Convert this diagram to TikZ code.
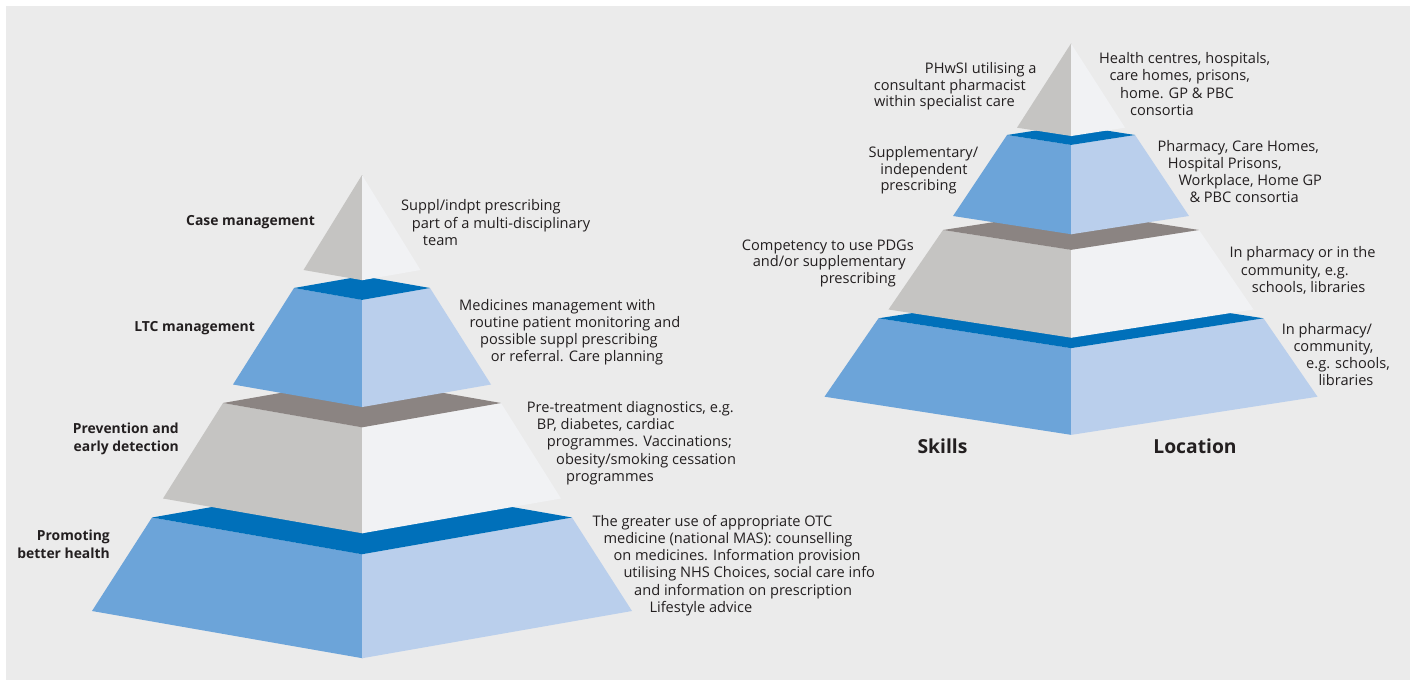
\documentclass[tikz,border=0pt]{standalone}
\usepackage{fontspec}
\setmainfont{Open Sans}
\definecolor{bgcol}{HTML}{EBEBEB}
\definecolor{greyL}{HTML}{C5C4C2}
\definecolor{greyR}{HTML}{F1F2F4}
\definecolor{greyT}{HTML}{8B8482}
\definecolor{blueL}{HTML}{6CA4D9}
\definecolor{blueR}{HTML}{BACFEC}
\definecolor{blueT}{HTML}{0070BA}
\definecolor{txtcol}{HTML}{231F20}
\newcommand\lns[1]{\begin{tabular}[t]{@{}l@{}}#1\end{tabular}}
\newcommand\rns[1]{\begin{tabular}[t]{@{}r@{}}#1\end{tabular}}
% tier: cx, ratio, top half-width, top y, bottom half-width, bottom y, left col, right col, top col
\newcommand\pyrtier[9]{%
  \fill[#7] ({#1-#3},#4) -- ({#1+0.6},{#4+#2*#3}) -- ({#1+0.6},{#6+#2*#5}) -- ({#1-#5},#6) -- cycle;
  \fill[#8] ({#1+#3},#4) -- (#1,{#4+#2*#3}) -- (#1,{#6+#2*#5}) -- ({#1+#5},#6) -- cycle;
  \fill[#9] ({#1-#3},#4) -- (#1,{#4-#2*#3}) -- ({#1+#3},#4) -- (#1,{#4+#2*#3}) -- cycle;
}
\tikzset{
  bodytxt/.style={inner sep=0pt, text=txtcol, font=\fontsize{14.6}{17.3}\selectfont},
  labtxt/.style={inner sep=0pt, text=txtcol, font=\bfseries\fontsize{13.9}{18.3}\selectfont},
  axistxt/.style={inner sep=0pt, text=txtcol, font=\bfseries\fontsize{19.3}{22}\selectfont},
}
\begin{document}
\begin{tikzpicture}[x=1pt,y=-1pt]
\path[use as bounding box] (0,0) rectangle (1410,680);
\fill[bgcol] (6,6) rectangle (1410,680);

% ---------- left pyramid ----------
\pyrtier{362}{0.175}{210}{517.5}{270}{611}{blueL}{blueR}{blueT}
\pyrtier{362}{0.175}{139}{403}{199}{498.5}{greyL}{greyR}{greyT}
\pyrtier{362}{0.175}{68}{288}{129}{384.5}{blueL}{blueR}{blueT}
\fill[greyL] (362,175) -- (362.6,175) -- (362.6,{270+0.175*58.5}) -- ({362-58.5},270) -- cycle;
\fill[greyR] (362,175) -- (362,{270+0.175*58.5}) -- ({362+58.5},270) -- cycle;

% ---------- right pyramid ----------
\pyrtier{1071}{0.155}{192.5}{318.3}{246.5}{396.7}{blueL}{blueR}{blueT}
\pyrtier{1071}{0.155}{128}{230}{182.5}{309.5}{greyL}{greyR}{greyT}
\pyrtier{1071}{0.155}{64}{135}{118}{216}{blueL}{blueR}{blueT}
\fill[greyL] (1071,43.5) -- (1071.6,43.5) -- (1071.6,{127.7+0.155*54}) -- ({1071-54},127.7) -- cycle;
\fill[greyR] (1071,43.5) -- (1071,{127.7+0.155*54}) -- ({1071+54},127.7) -- cycle;

% ---------- left pyramid labels ----------
\node[labtxt, anchor=base east] (lcase) at (315,225) {Case management};
\node[labtxt, anchor=base east] (lltc) at (255,331) {LTC management};
\node[labtxt, anchor=base east] (lprev) at (179,433.5) {\rns{Prevention and\\early detection}};
\node[labtxt, anchor=base east] (lprom) at (110,540.5) {\rns{Promoting\\better health}};

\node[bodytxt, anchor=base west] (tcase) at (401,210.7) {\lns{Suppl/indpt prescribing\\
\hspace*{10.7pt}part of a multi-disciplinary\\
\hspace*{21.7pt}team}};
\node[bodytxt, anchor=base west] (tltc) at (459,310) {\lns{Medicines management with\\
\hspace*{10.3pt}routine patient monitoring and\\
\hspace*{21pt}possible suppl prescribing\\
\hspace*{31.7pt}or referral. Care planning}};
\node[bodytxt, anchor=base west] (tprev) at (526.7,412.3) {\lns{Pre-treatment diagnostics, e.g.\\
\hspace*{10pt}BP, diabetes, cardiac\\
\hspace*{20pt}programmes. Vaccinations;\\
\hspace*{29.3pt}obesity/smoking cessation\\
\hspace*{39.3pt}programmes}};
\node[bodytxt, anchor=base west] (tprom) at (592.3,526) {\lns{The greater use of appropriate OTC\\
\hspace*{11pt}medicine (national MAS): counselling\\
\hspace*{21pt}on medicines. Information provision\\
\hspace*{31pt}utilising NHS Choices, social care info\\
\hspace*{41.7pt}and information on prescription\\
\hspace*{57pt}Lifestyle advice}};

% ---------- right pyramid texts ----------
\node[bodytxt, anchor=base east, font=\fontsize{14.6}{16.7}\selectfont] (sk1) at (1036.7,73.3) {\rns{PHwSI utilising a\\
consultant pharmacist\hspace*{10.7pt}\\
within specialist care\hspace*{21.7pt}}};
\node[bodytxt, anchor=base east, font=\fontsize{14.6}{16.6}\selectfont] (sk2) at (978.3,157.7) {\rns{Supplementary/\\
independent\hspace*{10.6pt}\\
prescribing\hspace*{21.6pt}}};
\node[bodytxt, anchor=base east, font=\fontsize{14.6}{16.7}\selectfont] (sk3) at (914,250) {\rns{Competency to use PDGs\\
and/or supplementary\hspace*{8pt}\\
prescribing\hspace*{18pt}}};

\node[bodytxt, anchor=base west, font=\fontsize{14.6}{17.5}\selectfont] (lo1) at (1099,63.3) {\lns{Health centres, hospitals,\\
\hspace*{10.3pt}care homes, prisons,\\
\hspace*{21pt}home. GP \& PBC\\
\hspace*{31pt}consortia}};
\node[bodytxt, anchor=base west, font=\fontsize{14.6}{17.2}\selectfont] (lo2) at (1157.3,151) {\lns{Pharmacy, Care Homes,\\
\hspace*{10.4pt}Hospital Prisons,\\
\hspace*{21pt}Workplace, Home GP\\
\hspace*{32pt}\& PBC consortia}};
\node[bodytxt, anchor=base west] (lo3) at (1229.3,257.7) {\lns{In pharmacy or in the\\
\hspace*{11.4pt}community, e.g.\\
\hspace*{22.4pt}schools, libraries}};
\node[bodytxt, anchor=base west, font=\fontsize{14.6}{17}\selectfont] (lo4) at (1281.7,334) {\lns{In pharmacy/\\
\hspace*{11.6pt}community,\\
\hspace*{24.3pt}e.g. schools,\\
\hspace*{36.6pt}libraries}};

\node[axistxt, anchor=base] (skills) at (942.5,453.5) {Skills};
\node[axistxt, anchor=base] (location) at (1195,453.5) {Location};
\end{tikzpicture}
\end{document}
